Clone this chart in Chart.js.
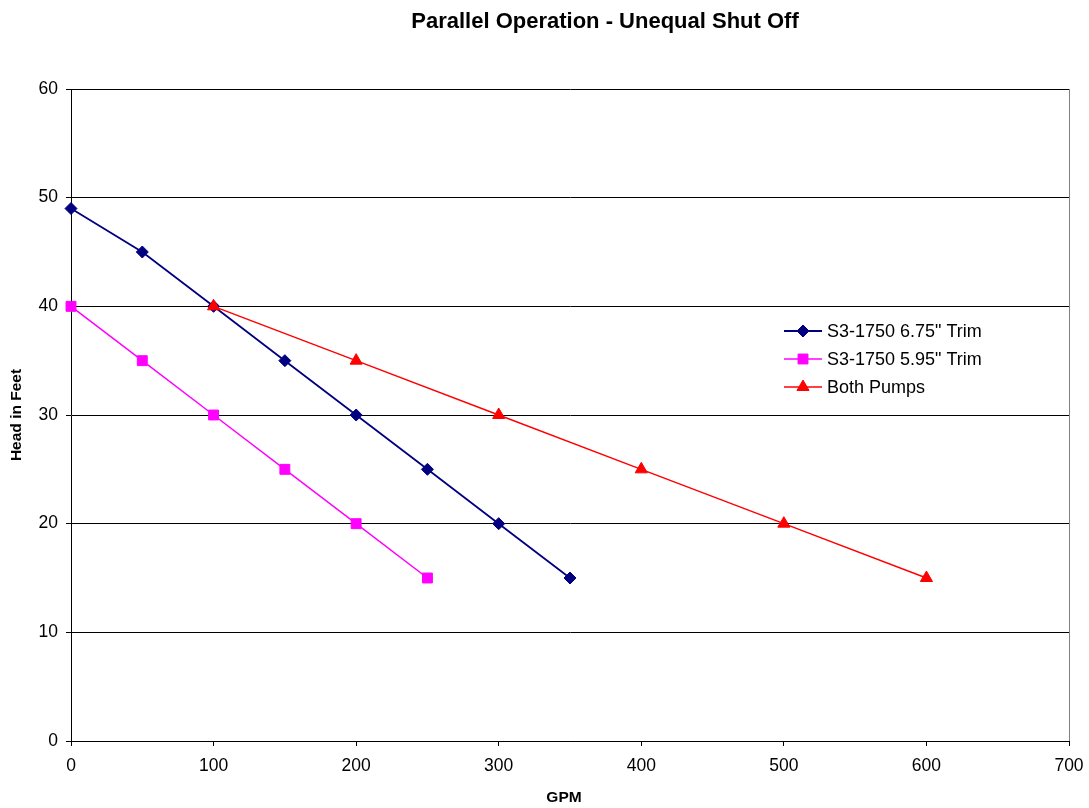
<!DOCTYPE html>
<html>
<head>
<meta charset="utf-8">
<script src="https://cdn.jsdelivr.net/npm/chart.js@4.4.1/dist/chart.umd.min.js"></script>
<style>
  html, body { margin: 0; padding: 0; background: #fff; }
  #wrap { width: 1089px; height: 808px; position: relative; }
</style>
</head>
<body>
<div id="wrap"><canvas id="c" width="1089" height="808"></canvas></div>
<script>
// Pump curves: flow in GPM vs head in feet
const trim675Gpm  = [0, 50, 100, 150, 200, 250, 300, 350];
const trim675Head = [49, 45, 40, 35, 30, 25, 20, 15];

const trim595Gpm  = [0, 50, 100, 150, 200, 250];
const trim595Head = [40, 35, 30, 25, 20, 15];

const bothGpm  = [100, 200, 300, 400, 500, 600];
const bothHead = [40, 35, 30, 25, 20, 15];

const seriesNames = ['S3-1750 6.75" Trim', 'S3-1750 5.95" Trim', 'Both Pumps'];
const xTicks = [0, 100, 200, 300, 400, 500, 600, 700];
const yTicks = [0, 10, 20, 30, 40, 50, 60];

const FONT = 'Liberation Sans, Arial, sans-serif';
const toPoints = (xs, ys) => xs.map((x, i) => ({ x: x, y: ys[i] }));

// Legend marker, same geometry as Chart.js point styles (fill + 1px outline)
function marker(ctx, style, x, y, r, color) {
  ctx.save();
  ctx.fillStyle = color;
  ctx.strokeStyle = color;
  ctx.lineWidth = 1;
  ctx.beginPath();
  if (style === 'rectRot') {
    ctx.moveTo(x, y - r); ctx.lineTo(x + r, y); ctx.lineTo(x, y + r); ctx.lineTo(x - r, y);
  } else if (style === 'rect') {
    const h = r * Math.SQRT1_2;
    ctx.rect(x - h, y - h, 2 * h, 2 * h);
  } else {
    const s = r * Math.sin(Math.PI / 3);
    ctx.moveTo(x, y - r); ctx.lineTo(x + s, y + r / 2); ctx.lineTo(x - s, y + r / 2);
  }
  ctx.closePath();
  ctx.fill();
  ctx.stroke();
  ctx.restore();
}

// Title, axis titles, plot border and legend box
const decorations = {
  id: 'decorations',
  afterDraw(chart) {
    const ctx = chart.ctx;
    const a = chart.chartArea;
    ctx.save();
    // right border of plot area
    ctx.strokeStyle = '#808080';
    ctx.lineWidth = 1;
    ctx.beginPath();
    ctx.moveTo(a.right + 0.5, a.top);
    ctx.lineTo(a.right + 0.5, a.bottom);
    ctx.stroke();

    ctx.fillStyle = '#000';
    ctx.textAlign = 'center';
    ctx.textBaseline = 'middle';
    ctx.font = 'bold 22px ' + FONT;
    ctx.fillText('Parallel Operation - Unequal Shut Off', 605, 22);

    ctx.font = 'bold 15.5px ' + FONT;
    ctx.fillText('GPM', 564, 798);
    ctx.save();
    ctx.translate(17, 415);
    ctx.rotate(-Math.PI / 2);
    ctx.fillText('Head in Feet', 0, 0);
    ctx.restore();

    // legend
    ctx.font = '18px ' + FONT;
    ctx.textAlign = 'left';
    chart.data.datasets.forEach((ds, i) => {
      const y = 331 + i * 28;
      ctx.strokeStyle = ds.borderColor;
      ctx.lineWidth = ds.borderWidth;
      ctx.beginPath();
      ctx.moveTo(784, y);
      ctx.lineTo(822, y);
      ctx.stroke();
      marker(ctx, ds.pointStyle, 803, y, ds.pointRadius, ds.pointBackgroundColor);
      ctx.fillStyle = '#000';
      ctx.fillText(ds.label, 827, y + 1);
    });
    ctx.restore();
  }
};

new Chart(document.getElementById('c'), {
  type: 'scatter',
  data: {
    datasets: [
      {
        label: seriesNames[0],
        data: toPoints(trim675Gpm, trim675Head),
        order: 1,
        showLine: true,
        clip: false,
        borderColor: '#000080',
        backgroundColor: '#000080',
        pointBackgroundColor: '#000080',
        pointBorderColor: '#000080',
        borderWidth: 1.8,
        pointStyle: 'rectRot',
        pointRadius: 6,
        pointBorderWidth: 1,
        tension: 0
      },
      {
        label: seriesNames[1],
        data: toPoints(trim595Gpm, trim595Head),
        order: 1,
        showLine: true,
        clip: false,
        borderColor: '#FF00FF',
        backgroundColor: '#FF00FF',
        pointBackgroundColor: '#FF00FF',
        pointBorderColor: '#FF00FF',
        borderWidth: 1.5,
        pointStyle: 'rect',
        pointRadius: 7,
        pointBorderWidth: 1,
        tension: 0
      },
      {
        label: seriesNames[2],
        data: toPoints(bothGpm, bothHead),
        order: 0,
        showLine: true,
        clip: false,
        borderColor: '#FF0000',
        backgroundColor: '#FF0000',
        pointBackgroundColor: '#FF0000',
        pointBorderColor: '#FF0000',
        borderWidth: 1.5,
        pointStyle: 'triangle',
        pointRadius: 7,
        pointBorderWidth: 1,
        tension: 0
      }
    ]
  },
  options: {
    responsive: false,
    animation: false,
    layout: { padding: { top: 89, right: 20, left: 0, bottom: 0 } },
    plugins: {
      legend: { display: false },
      title: { display: false },
      tooltip: { enabled: false }
    },
    scales: {
      x: {
        type: 'linear',
        min: 0,
        max: 700,
        afterFit(s) { s.height = 67; s.paddingLeft = 0; s.paddingRight = 0; },
        afterBuildTicks(s) { s.ticks = xTicks.map(v => ({ value: v })); },
        border: { color: '#000', width: 1 },
        grid: { drawOnChartArea: false, drawTicks: true, tickLength: 5, color: '#000' },
        ticks: { color: '#000', font: { family: FONT, size: 17.5 }, padding: 10, maxRotation: 0 }
      },
      y: {
        type: 'linear',
        min: 0,
        max: 60,
        afterFit(s) { s.width = 71; s.paddingTop = 0; s.paddingBottom = 0; },
        afterBuildTicks(s) { s.ticks = yTicks.map(v => ({ value: v })); },
        border: { color: '#000', width: 1 },
        grid: { color: '#000', lineWidth: 1, drawTicks: true, tickLength: 5 },
        ticks: { color: '#000', font: { family: FONT, size: 17.5 }, padding: 8 }
      }
    }
  },
  plugins: [decorations]
});
</script>
</body>
</html>
